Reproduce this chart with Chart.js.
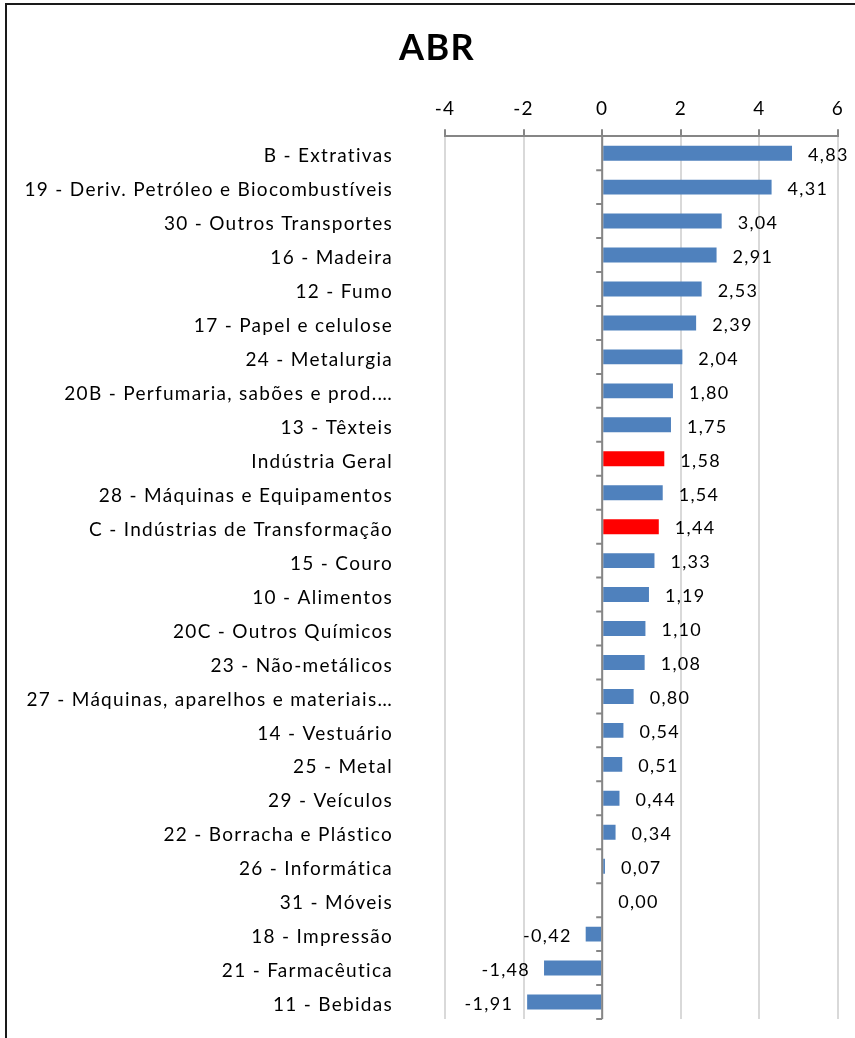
<!DOCTYPE html>
<html>
<head>
<meta charset="utf-8">
<script src="https://cdn.jsdelivr.net/npm/chart.js@4"></script>
<style>
    html, body { margin: 0; padding: 0; background: #fff; }
    #wrap { position: relative; width: 855px; height: 1038px; }
    #frame { position: absolute; left: 5px; top: 3px; right: -10px; bottom: -10px; border-left: 2px solid #1a1a1a; border-top: 2px solid #1a1a1a; pointer-events: none; }
    canvas { position: absolute; left: 0; top: 0; }
</style>
</head>
<body>
<div id="wrap">
    <canvas id="chart" width="855" height="1038"></canvas>
    <div id="frame"></div>
</div>
<script>
const categories = [
    'B - Extrativas',
    '19 - Deriv. Petróleo e Biocombustíveis',
    '30 - Outros Transportes',
    '16 - Madeira',
    '12 - Fumo',
    '17 - Papel e celulose',
    '24 - Metalurgia',
    '20B - Perfumaria, sabões e prod.…',
    '13 - Têxteis',
    'Indústria Geral',
    '28 - Máquinas e Equipamentos',
    'C - Indústrias de Transformação',
    '15 - Couro',
    '10 - Alimentos',
    '20C - Outros Químicos',
    '23 - Não-metálicos',
    '27 - Máquinas, aparelhos e materiais…',
    '14 - Vestuário',
    '25 - Metal',
    '29 - Veículos',
    '22 - Borracha e Plástico',
    '26 - Informática',
    '31 - Móveis',
    '18 - Impressão',
    '21 - Farmacêutica',
    '11 - Bebidas'
];
const abrValues = [4.83, 4.31, 3.04, 2.91, 2.53, 2.39, 2.04, 1.80, 1.75, 1.58, 1.54, 1.44, 1.33,
    1.19, 1.10, 1.08, 0.80, 0.54, 0.51, 0.44, 0.34, 0.07, 0.00, -0.42, -1.48, -1.91];
const highlighted = ['Indústria Geral', 'C - Indústrias de Transformação'];
const xTicks = [-4, -2, 0, 2, 4, 6];

const fmt = (v) => v.toFixed(2).replace('.', ',');
const barColors = categories.map(c => highlighted.includes(c) ? '#ff0000' : '#4f81bd');

// excel spreads its letters a bit
const spacing = {
    id: 'spacing',
    beforeDraw(chart) {
        chart.ctx.letterSpacing = '1.3px';
    }
};

// zero axis line with small ticks between categories
const zeroAxis = {
    id: 'zeroAxis',
    afterDatasetsDraw(chart) {
        const { ctx, scales: { x, y } } = chart;
        const x0 = x.getPixelForValue(0);
        ctx.save();
        ctx.strokeStyle = '#868686';
        ctx.lineWidth = 2;
        ctx.beginPath();
        ctx.moveTo(x0, y.top);
        ctx.lineTo(x0, y.bottom);
        for (let i = 0; i < categories.length; i++) {
            const yy = y.getPixelForValue(i + 0.5);
            ctx.moveTo(x0, yy);
            ctx.lineTo(x0 - 6, yy);
        }
        ctx.stroke();
        ctx.restore();
    }
};

const valueLabels = {
    id: 'valueLabels',
    afterDatasetsDraw(chart) {
        const { ctx } = chart;
        const meta = chart.getDatasetMeta(0);
        ctx.save();
        ctx.font = '18px Lato';
        ctx.fillStyle = '#000';
        ctx.textBaseline = 'middle';
        meta.data.forEach((bar, i) => {
            const v = abrValues[i];
            if (v < 0) {
                ctx.textAlign = 'right';
                ctx.fillText(fmt(v), bar.x - 14, bar.y + 2);
            } else {
                ctx.textAlign = 'left';
                ctx.fillText(fmt(v), bar.x + 16, bar.y + 2);
            }
        });
        ctx.restore();
    }
};

new Chart(document.getElementById('chart'), {
    type: 'bar',
    data: {
        labels: categories,
        datasets: [{
            label: 'ABR',
            data: abrValues,
            backgroundColor: barColors,
            barPercentage: 0.44,
            categoryPercentage: 1
        }]
    },
    options: {
        indexAxis: 'y',
        responsive: false,
        animation: false,
        layout: { padding: { left: 19, right: 0, top: 0, bottom: 19 } },
        plugins: {
            legend: { display: false },
            tooltip: { enabled: false },
            title: {
                display: true,
                text: 'ABR',
                color: '#000',
                font: { family: 'Lato', size: 36, weight: 'bold' },
                padding: { top: 27, bottom: 8 }
            }
        },
        scales: {
            x: {
                position: 'top',
                min: -4,
                max: 6,
                afterBuildTicks(scale) {
                    scale.ticks = xTicks.map(v => ({ value: v }));
                },
                afterFit(scale) {
                    scale.height = 58;
                    scale.paddingRight = 17;
                },
                ticks: {
                    color: '#000',
                    font: { family: 'Lato', size: 19 },
                    padding: 9
                },
                grid: {
                    color: '#d9d9d9',
                    lineWidth: 2,
                    tickColor: '#868686',
                    tickLength: 7
                },
                border: { color: '#868686', width: 2 }
            },
            y: {
                afterFit(scale) {
                    scale.width = 426;
                    scale.paddingTop = 0;
                    scale.paddingBottom = 0;
                },
                ticks: {
                    color: '#000',
                    font: { family: 'Lato', size: 19 },
                    padding: 52,
                    labelOffset: 3,
                    autoSkip: false
                },
                grid: { display: false, drawTicks: false, tickLength: 0 },
                border: { display: false }
            }
        }
    },
    plugins: [spacing, zeroAxis, valueLabels]
});
</script>
</body>
</html>
